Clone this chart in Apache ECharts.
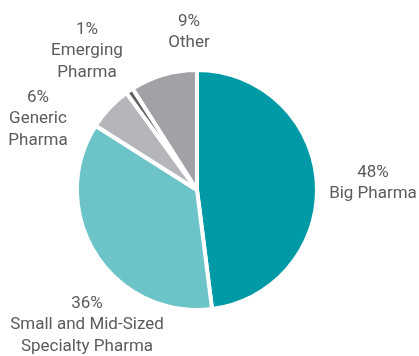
<!DOCTYPE html>
<html>
<head>
<meta charset="utf-8">
<script src="https://cdn.jsdelivr.net/npm/echarts@6/dist/echarts.min.js"></script>
<style>
  html, body { margin: 0; padding: 0; background: #ffffff; }
  #chart { width: 419px; height: 356px; }
</style>
</head>
<body>
<div id="chart"></div>
<script>
// Market share by company type
const categories = ['Big Pharma', 'Small and Mid-Sized\nSpecialty Pharma', 'Generic\nPharma', 'Emerging\nPharma', 'Other'];
const shares = [48, 36, 6, 1, 9];
const colors = ['#009aa6', '#6cc4c9', '#b4b6b9', '#5e6266', '#a1a2a5'];

// label centres (px) for each slice, same order as categories
const labelCenters = [[373, 183], [87, 325], [38, 119], [87, 51], [189, 32]];

const chart = echarts.init(document.getElementById('chart'), null, { renderer: 'canvas' });

chart.setOption({
  animation: false,
  series: [{
    type: 'pie',
    center: [197, 190],
    radius: ['0%', 120],
    startAngle: 90,
    clockwise: true,
    itemStyle: { borderColor: '#ffffff', borderWidth: 4 },
    label: {
      show: true,
      position: 'outside',
      formatter: p => p.value + '%\n' + p.name,
      color: '#5b5b5b',
      fontFamily: 'Roboto, "Liberation Sans", sans-serif',
      fontSize: 17,
      lineHeight: 21.5,
      align: 'center',
      overflow: 'none',
      width: 220
    },
    labelLine: { show: false },
    labelLayout: function (params) {
      const c = labelCenters[params.dataIndex];
      return { x: c[0], y: c[1], align: 'center', verticalAlign: 'middle' };
    },
    data: categories.map((name, i) => ({
      name: name,
      value: shares[i],
      itemStyle: { color: colors[i] }
    }))
  }]
});
</script>
</body>
</html>
